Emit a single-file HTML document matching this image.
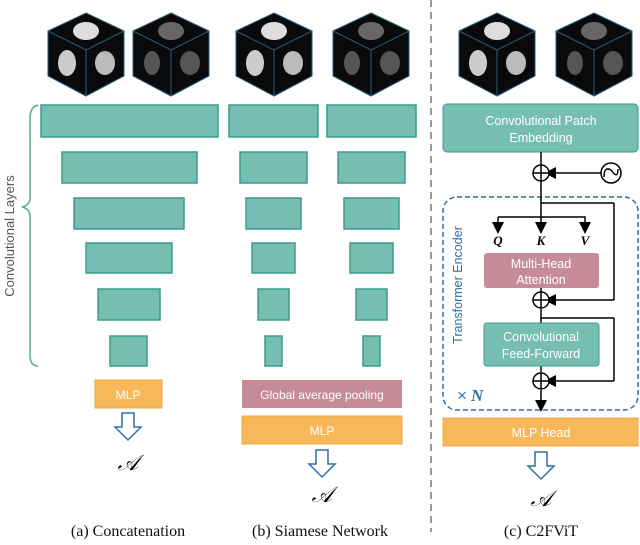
<!DOCTYPE html><html><head><style>body{margin:0;background:#fff}svg{display:block}</style></head><body>
<svg width="640" height="545" viewBox="0 0 640 545" xmlns="http://www.w3.org/2000/svg" font-family="Liberation Sans, sans-serif">
<defs>
<g id="cube">
<polygon points="0,-38 38,-20 38,25 0,45 -38,25 -38,-20" fill="#0a0a0a" stroke="#2a5c7a" stroke-width="1"/>
<polyline points="-38,-20 0,-1 38,-20 M0,-1" fill="none" stroke="#2a5c7a"/>
<line x1="0" y1="-1" x2="0" y2="45" stroke="#2a5c7a"/>
</g>
<marker id="ah" markerWidth="8" markerHeight="8" refX="4" refY="4" orient="auto"><path d="M0,0 L8,4 L0,8z" fill="#000"/></marker>
</defs>
<g transform="translate(86,51)"><use href="#cube"/><ellipse cx="0" cy="-20" rx="13" ry="9" fill="#ddd"/><ellipse cx="-19" cy="12" rx="9" ry="13" fill="#ccc"/><ellipse cx="19" cy="12" rx="10" ry="12" fill="#bbb"/></g>
<g transform="translate(171,51)"><use href="#cube"/><ellipse cx="0" cy="-20" rx="13" ry="9" fill="#666"/><ellipse cx="-19" cy="12" rx="8" ry="12" fill="#555"/><ellipse cx="19" cy="12" rx="10" ry="12" fill="#555"/></g>
<g transform="translate(274,51)"><use href="#cube"/><ellipse cx="0" cy="-20" rx="13" ry="9" fill="#ddd"/><ellipse cx="-19" cy="12" rx="9" ry="13" fill="#ccc"/><ellipse cx="19" cy="12" rx="10" ry="12" fill="#bbb"/></g>
<g transform="translate(371,51)"><use href="#cube"/><ellipse cx="0" cy="-20" rx="13" ry="9" fill="#666"/><ellipse cx="-19" cy="12" rx="8" ry="12" fill="#555"/><ellipse cx="19" cy="12" rx="10" ry="12" fill="#555"/></g>
<g transform="translate(497,51)"><use href="#cube"/><ellipse cx="0" cy="-20" rx="13" ry="9" fill="#ddd"/><ellipse cx="-19" cy="12" rx="9" ry="13" fill="#ccc"/><ellipse cx="19" cy="12" rx="10" ry="12" fill="#bbb"/></g>
<g transform="translate(594,51)"><use href="#cube"/><ellipse cx="0" cy="-20" rx="13" ry="9" fill="#666"/><ellipse cx="-19" cy="12" rx="8" ry="12" fill="#555"/><ellipse cx="19" cy="12" rx="10" ry="12" fill="#555"/></g>
<g fill="#76bdb2" stroke="#3a9c8d" stroke-width="1.5">
<rect x="41" y="105" width="177" height="32"/><rect x="62" y="152" width="135" height="31"/><rect x="74" y="198" width="110" height="31"/><rect x="86" y="243" width="86" height="30"/><rect x="98" y="289" width="62" height="31"/><rect x="110" y="336" width="37" height="30"/>
<rect x="229" y="105" width="89" height="32"/><rect x="240" y="152" width="67" height="31"/><rect x="246" y="198" width="55" height="31"/><rect x="252" y="243" width="43" height="30"/><rect x="258" y="289" width="31" height="31"/><rect x="265" y="336" width="17" height="30"/>
<rect x="327" y="105" width="89" height="32"/><rect x="338" y="152" width="67" height="31"/><rect x="344" y="198" width="55" height="31"/><rect x="350" y="243" width="43" height="30"/><rect x="356" y="289" width="31" height="31"/><rect x="363" y="336" width="17" height="30"/>
</g>
<path d="M38,105 Q30,107 30,118 L30,198 Q30,205 22,207 Q30,209 30,216 L30,355 Q30,366 38,366" fill="none" stroke="#5aa89c" stroke-width="1.5"/>
<text transform="translate(14,236) rotate(-90)" text-anchor="middle" font-size="13" fill="#555">Convolutional Layers</text>
<rect x="95" y="380" width="67" height="28" fill="#f8b85a" stroke="#f0a840"/>
<text x="128" y="399" text-anchor="middle" font-size="12" fill="#fff">MLP</text>
<rect x="242" y="380" width="160" height="28" fill="#c58b98"/>
<text x="322" y="399" text-anchor="middle" font-size="12" fill="#fff">Global average pooling</text>
<rect x="242" y="416" width="160" height="28" fill="#f8b85a" stroke="#f0a840"/>
<text x="322" y="435" text-anchor="middle" font-size="12" fill="#fff">MLP</text>
<g fill="#fff" stroke="#2f6fa8" stroke-width="1.5">
<path d="M122,413 h12 v14 h7 l-13,13 l-13,-13 h7z"/>
<path d="M316,450 h12 v14 h7 l-13,13 l-13,-13 h7z"/>
<path d="M535,452 h12 v14 h7 l-13,13 l-13,-13 h7z"/>
</g>
<g font-family="Liberation Serif, serif" font-style="italic" font-size="22" text-anchor="middle"><text x="128" y="470">𝒜</text><text x="322" y="502">𝒜</text><text x="541" y="506">𝒜</text></g>
<line x1="431" y1="0" x2="431" y2="532" stroke="#999" stroke-width="2" stroke-dasharray="7,5"/>
<rect x="443" y="104" width="195" height="48" rx="4" fill="#76bdb2" stroke="#3a9c8d"/>
<text x="541" y="125" text-anchor="middle" font-size="12.5" fill="#fff">Convolutional Patch</text>
<text x="541" y="142" text-anchor="middle" font-size="12.5" fill="#fff">Embedding</text>
<rect x="443" y="197" width="195" height="213" rx="14" fill="none" stroke="#2f6fa8" stroke-width="1.5" stroke-dasharray="5,3"/>
<g stroke="#000" stroke-width="1.5" fill="none">
<line x1="541" y1="152" x2="541" y2="217"/>
<line x1="541" y1="288" x2="541" y2="292"/>
<line x1="601" y1="173" x2="550" y2="173" marker-end="url(#ah)"/>
<line x1="541" y1="203" x2="614" y2="203"/><line x1="614" y1="203" x2="614" y2="300"/><line x1="614" y1="300" x2="550" y2="300" marker-end="url(#ah)"/>
<polyline points="498,217 585,217 585,228" marker-end="url(#ah)"/>
<line x1="498" y1="217" x2="498" y2="228" marker-end="url(#ah)"/>
<line x1="541" y1="217" x2="541" y2="228" marker-end="url(#ah)"/>
<line x1="541" y1="309" x2="541" y2="372"/>
<line x1="541" y1="318" x2="614" y2="318"/><line x1="614" y1="318" x2="614" y2="381"/><line x1="614" y1="381" x2="550" y2="381" marker-end="url(#ah)"/>
<line x1="541" y1="390" x2="541" y2="406" marker-end="url(#ah)"/>
<circle cx="541" cy="173" r="8" fill="#fff"/><path d="M533,173h16M541,165v16"/>
<circle cx="541" cy="300" r="8" fill="#fff"/><path d="M533,300h16M541,292v16"/>
<circle cx="541" cy="381" r="8" fill="#fff"/><path d="M533,381h16M541,373v16"/>
<circle cx="611" cy="173" r="10" fill="#fff"/><path d="M604,177 Q604,166 611,170 Q618,180 618,169"/>
</g>
<rect x="484" y="253" width="115" height="35" rx="3" fill="#c58b98"/>
<text x="541" y="268" text-anchor="middle" font-size="12.5" fill="#fff">Multi-Head</text>
<text x="541" y="284" text-anchor="middle" font-size="12.5" fill="#fff">Attention</text>
<rect x="484" y="323" width="115" height="43" rx="3" fill="#76bdb2" stroke="#3a9c8d"/>
<text x="541" y="341" text-anchor="middle" font-size="12.5" fill="#fff">Convolutional</text>
<text x="541" y="358" text-anchor="middle" font-size="12.5" fill="#fff">Feed-Forward</text>
<g font-family="Liberation Serif, serif" font-style="italic" font-weight="bold" font-size="13" text-anchor="middle"><text x="498" y="245">Q</text><text x="541" y="245">K</text><text x="585" y="245">V</text></g>
<text transform="translate(462,285) rotate(-90)" text-anchor="middle" font-size="12.5" fill="#2f6fa8">Transformer Encoder</text>
<text x="457" y="401" font-size="17" fill="#2f6fa8">×</text><text x="471" y="401" font-family="Liberation Serif, serif" font-style="italic" font-weight="bold" font-size="17" fill="#2f6fa8">N</text>
<rect x="443" y="418" width="195" height="28" fill="#f8b85a" stroke="#f0a840"/>
<text x="541" y="437" text-anchor="middle" font-size="12.5" fill="#fff">MLP Head</text>
<g font-family="Liberation Serif, serif" font-size="16" text-anchor="middle" fill="#111"><text x="128" y="536">(a) Concatenation</text><text x="320" y="536">(b) Siamese Network</text><text x="541" y="536">(c) C2FViT</text></g>
</svg>
</body></html>
